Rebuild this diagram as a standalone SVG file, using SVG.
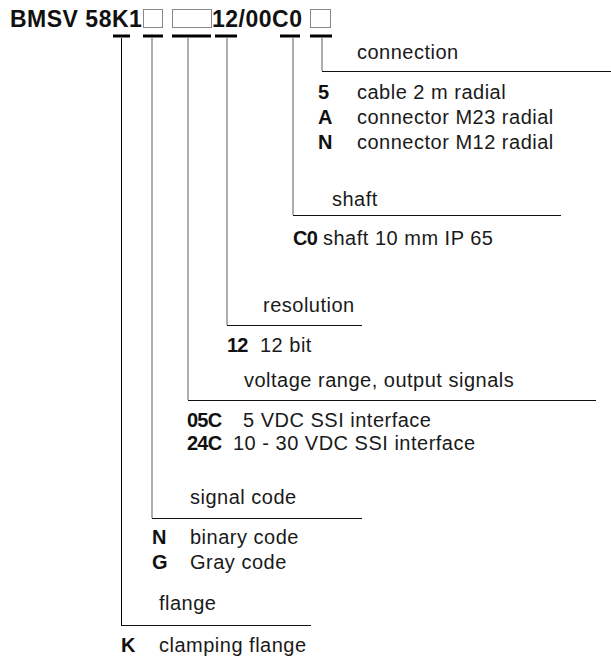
<svg xmlns="http://www.w3.org/2000/svg" width="611" height="657" viewBox="0 0 611 657">
<style>
.t{font-family:"Liberation Sans",Arial,sans-serif;font-weight:bold;font-size:23px;letter-spacing:0.5px;fill:#111}
.l{font-family:"Liberation Sans",Arial,sans-serif;font-size:20px;letter-spacing:0.5px;fill:#1a1a1a}
.c{font-family:"Liberation Sans",Arial,sans-serif;font-size:20px;font-weight:bold;letter-spacing:-0.8px;fill:#111}
.box{fill:#fff;stroke:#888;stroke-width:1}
.bar{stroke:#000;stroke-width:3}
.v{stroke:#777;stroke-width:1.2;fill:none}
.h{stroke:#111;stroke-width:1;fill:none}
</style>
<rect width="611" height="657" fill="#fff"/>
<g id="code">
<text class="t" x="10" y="27">BMSV 58K1</text>
<rect class="box" x="143.5" y="9.5" width="19" height="18"/>
<rect class="box" x="172.5" y="9.5" width="39" height="18"/>
<text class="t" x="212" y="27">12/00C0</text>
<rect class="box" x="310.5" y="9.5" width="20" height="18"/>
<line class="bar" x1="113" y1="36" x2="130" y2="36"/>
<line class="bar" x1="143" y1="36" x2="163" y2="36"/>
<line class="bar" x1="172" y1="36" x2="211" y2="36"/>
<line class="bar" x1="215" y1="36" x2="237" y2="36"/>
<line class="bar" x1="280" y1="36" x2="300" y2="36"/>
<line class="bar" x1="310" y1="36" x2="332" y2="36"/>
</g>
<g id="connectors">
<line x1="121.5" y1="38" x2="121.5" y2="625" stroke="#000" stroke-width="1"/>
<line class="h" x1="121" y1="625.5" x2="311" y2="625.5"/>
<line class="v" x1="152" y1="38" x2="152" y2="518"/>
<line class="h" x1="152" y1="518.5" x2="362" y2="518.5"/>
<line class="v" x1="188" y1="38" x2="188" y2="400"/>
<line class="h" x1="188" y1="400.5" x2="596" y2="400.5"/>
<line class="v" x1="227" y1="38" x2="227" y2="325"/>
<line class="h" x1="227" y1="325.5" x2="362" y2="325.5"/>
<line class="v" x1="293" y1="38" x2="293" y2="215"/>
<line class="h" x1="293" y1="215.5" x2="561" y2="215.5"/>
<line class="v" x1="322" y1="38" x2="322" y2="71"/>
<line class="h" x1="322" y1="71.5" x2="611" y2="71.5"/>
</g>
<g id="connection">
<text class="l" x="357" y="59">connection</text>
<text class="c" x="318" y="99">5</text><text class="l" x="357" y="99">cable 2 m radial</text>
<text class="c" x="318" y="124">A</text><text class="l" x="357" y="124">connector M23 radial</text>
<text class="c" x="318" y="149">N</text><text class="l" x="357" y="149">connector M12 radial</text>
</g>
<g id="shaft">
<text class="l" x="332" y="206">shaft</text>
<text class="c" x="293" y="245">C0</text><text class="l" x="323" y="245">shaft 10 mm IP 65</text>
</g>
<g id="resolution">
<text class="l" x="263" y="312">resolution</text>
<text class="c" x="227" y="352">12</text><text class="l" x="260" y="352">12 bit</text>
</g>
<g id="voltage">
<text class="l" x="244" y="387">voltage range, output signals</text>
<text class="c" x="187" y="427">05C</text><text class="l" x="243" y="427">5 VDC SSI interface</text>
<text class="c" x="187" y="450">24C</text><text class="l" x="233" y="450">10 - 30 VDC SSI interface</text>
</g>
<g id="signal">
<text class="l" x="190" y="504">signal code</text>
<text class="c" x="152" y="544">N</text><text class="l" x="190" y="544">binary code</text>
<text class="c" x="152" y="569">G</text><text class="l" x="190" y="569">Gray code</text>
</g>
<g id="flange">
<text class="l" x="159" y="610">flange</text>
<text class="c" x="121" y="652">K</text><text class="l" x="159" y="652">clamping flange</text>
</g>
</svg>
